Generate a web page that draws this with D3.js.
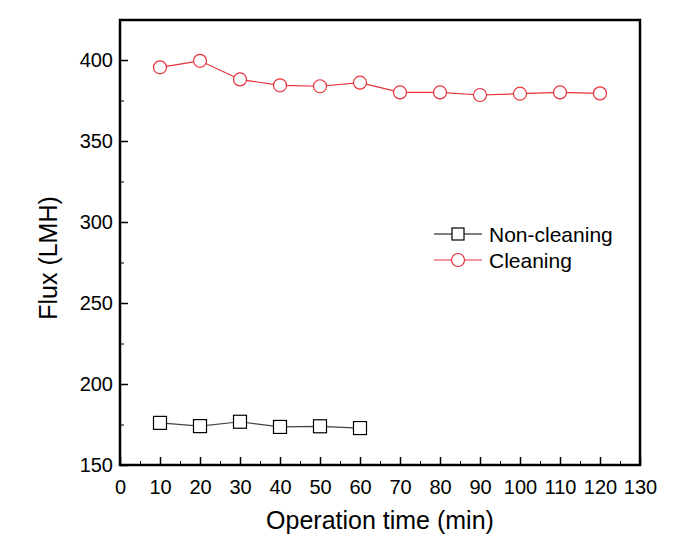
<!DOCTYPE html>
<html>
<head>
<meta charset="utf-8">
<script src="https://cdn.jsdelivr.net/npm/d3@7"></script>
<style>
	body { margin: 0; background: #fff; }
	svg { font-family: "Liberation Sans", Arial, sans-serif; }
	.axis path, .axis line { stroke: #000; }
	.axis text { font-size: 20px; fill: #000; }
</style>
</head>
<body>
<svg width="685" height="550"></svg>
<script>
	var times = [10, 20, 30, 40, 50, 60, 70, 80, 90, 100, 110, 120];
	var nonCleaning = [176, 174, 176.7, 173.5, 173.9, 172.8];
	var cleaning = [395.5, 399.5, 388, 384.4, 383.8, 386, 380, 380, 378.4, 379.2, 380, 379.4];
	var xTicks = d3.range(0, 131, 10);
	var yTicks = [150, 200, 250, 300, 350, 400];

	var svg = d3.select("svg"),
		mLeft = 120, mRight = 640, mTop = 20, mBottom = 465;

	var x = d3.scaleLinear().domain([0, 130]).range([mLeft, mRight]);
	var y = d3.scaleLinear().domain([150, 424.7]).range([mBottom, mTop]);

	// minor ticks first, then major ones on top
	var xMinor = d3.axisBottom(x).tickValues(d3.range(5, 130, 10)).tickSizeInner(-4).tickSizeOuter(0).tickFormat("");
	var yMinor = d3.axisLeft(y).tickValues(d3.range(175, 425, 50)).tickSizeInner(-4).tickSizeOuter(0).tickFormat("");

	svg.append("g").attr("class", "axis").attr("transform", "translate(0," + mBottom + ")").call(xMinor)
		.select(".domain").remove();
	svg.append("g").attr("class", "axis").attr("transform", "translate(" + mLeft + ",0)").call(yMinor)
		.select(".domain").remove();

	var xAxis = svg.append("g").attr("class", "axis")
		.attr("transform", "translate(0," + mBottom + ")")
		.call(d3.axisBottom(x).tickValues(xTicks).tickSizeInner(-8).tickSizeOuter(0).tickPadding(15));
	xAxis.select(".domain").remove();
	xAxis.selectAll("line").attr("stroke-width", 1.5);

	var yAxis = svg.append("g").attr("class", "axis")
		.attr("transform", "translate(" + mLeft + ",0)")
		.call(d3.axisLeft(y).tickValues(yTicks).tickSizeInner(-8).tickSizeOuter(0).tickPadding(7));
	yAxis.select(".domain").remove();
	yAxis.selectAll("line").attr("stroke-width", 1.5);

	// frame
	svg.append("rect")
		.attr("x", mLeft).attr("y", mTop)
		.attr("width", mRight - mLeft).attr("height", mBottom - mTop)
		.attr("fill", "none").attr("stroke", "#000").attr("stroke-width", 2.5);

	// axis titles
	svg.append("text")
		.attr("x", 380).attr("y", 529)
		.attr("text-anchor", "middle").attr("font-size", 25)
		.text("Operation time (min)");
	svg.append("text")
		.attr("transform", "translate(57,258) rotate(-90)")
		.attr("text-anchor", "middle").attr("font-size", 25)
		.text("Flux (LMH)");

	var line = d3.line().x(function(d) { return x(d[0]); }).y(function(d) { return y(d[1]); });

	var red = "#e8303a";
	var ncData = nonCleaning.map(function(v, i) { return [times[i], v]; });
	var clData = cleaning.map(function(v, i) { return [times[i], v]; });

	svg.append("path").datum(ncData).attr("d", line)
		.attr("fill", "none").attr("stroke", "#444").attr("stroke-width", 1.2);
	svg.selectAll(".sq").data(ncData).enter().append("rect")
		.attr("x", function(d) { return x(d[0]) - 6.5; })
		.attr("y", function(d) { return y(d[1]) - 6.5; })
		.attr("width", 13).attr("height", 13)
		.attr("fill", "#fff").attr("stroke", "#000").attr("stroke-width", 1.2);

	svg.append("path").datum(clData).attr("d", line)
		.attr("fill", "none").attr("stroke", red).attr("stroke-width", 1.2);
	svg.selectAll(".ci").data(clData).enter().append("circle")
		.attr("cx", function(d) { return x(d[0]); })
		.attr("cy", function(d) { return y(d[1]); })
		.attr("r", 6.5)
		.attr("fill", "#fff").attr("stroke", red).attr("stroke-width", 1.2);

	// legend
	var lg = svg.append("g");
	lg.append("line").attr("x1", 434).attr("x2", 482).attr("y1", 234).attr("y2", 234)
		.attr("stroke", "#000").attr("stroke-width", 1.2);
	lg.append("rect").attr("x", 452).attr("y", 228).attr("width", 12).attr("height", 12)
		.attr("fill", "#fff").attr("stroke", "#000").attr("stroke-width", 1.2);
	lg.append("text").attr("x", 489).attr("y", 242).attr("font-size", 21).text("Non-cleaning");
	lg.append("line").attr("x1", 434).attr("x2", 482).attr("y1", 260).attr("y2", 260)
		.attr("stroke", red).attr("stroke-width", 1.2);
	lg.append("circle").attr("cx", 458).attr("cy", 260).attr("r", 6.5)
		.attr("fill", "#fff").attr("stroke", red).attr("stroke-width", 1.2);
	lg.append("text").attr("x", 489).attr("y", 268).attr("font-size", 21).text("Cleaning");
</script>
</body>
</html>
